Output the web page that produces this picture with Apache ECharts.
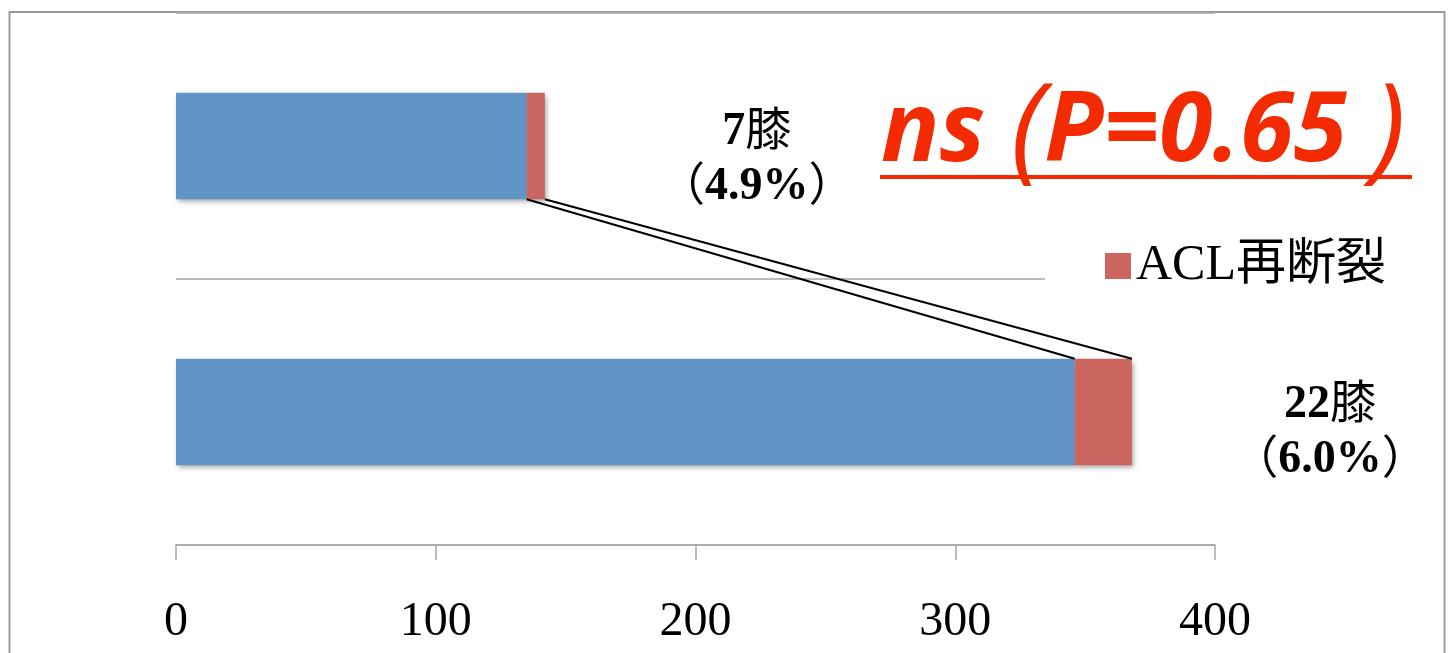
<!DOCTYPE html>
<html>
<head>
<meta charset="utf-8">
<script src="https://cdn.jsdelivr.net/npm/echarts@6/dist/echarts.min.js"></script>
<style>
  html, body { margin: 0; padding: 0; background: #fff; }
  #chart { width: 1453px; height: 653px; }
</style>
</head>
<body>
<div id="chart"></div>
<script>
// Knee counts per group (top bar first)
const groups = ['群A', '群B'];
const intactKnees = [135, 346];
const reruptureKnees = [7, 22];
const xTicks = [0, 100, 200, 300, 400];
const seriesNames = ['再断裂なし', 'ACL再断裂'];
const pValueParts = ['ns ', '(', 'P=0.65 ', ')'];

const SERIF = '"Liberation Serif", "Noto Sans CJK JP", serif';
const BAR_RATIO = 0.4;
const GRID_GRAY = '#a6a6a6';
const BLUE = '#6195c8';
const RED = '#cb6560';
const ALERT_RED = '#f42a00';

// label placement next to the red segment: [distance to the right, vertical shift]
const labelShift = [[212, 14], [198, 21]];

// end points of the connector lines: [x on top bar, top index, x on bottom bar, bottom index]
const connectorData = [
  [intactKnees[0], 0, intactKnees[1], 1],
  [intactKnees[0] + reruptureKnees[0], 0, intactKnees[1] + reruptureKnees[1], 1]
];

const barShadow = {
  shadowColor: 'rgba(0,0,0,0.35)',
  shadowBlur: 5,
  shadowOffsetX: 2,
  shadowOffsetY: 3
};

const labelRich = {
  b: { color: '#000', fontFamily: SERIF, fontWeight: 'bold', fontSize: 46, lineHeight: 55 },
  r: { color: '#000', fontFamily: SERIF, fontWeight: 'normal', fontSize: 46, lineHeight: 55 }
};

const chart = echarts.init(document.getElementById('chart'), null, { renderer: 'canvas' });

chart.setOption({
  animation: false,
  backgroundColor: '#fff',
  grid: { left: 176, right: 238, top: 13, bottom: 108, containLabel: false },
  xAxis: {
    type: 'value',
    min: xTicks[0],
    max: xTicks[xTicks.length - 1],
    interval: xTicks[1] - xTicks[0],
    axisLine: { show: true, lineStyle: { color: GRID_GRAY, width: 1.5 } },
    axisTick: { show: true, inside: false, length: 15, lineStyle: { color: GRID_GRAY, width: 1.5 } },
    splitLine: { show: false },
    axisLabel: { color: '#000', fontFamily: SERIF, fontSize: 48, margin: 53 }
  },
  yAxis: {
    type: 'category',
    data: groups,
    inverse: true,
    axisLine: { show: false },
    axisTick: { show: false },
    axisLabel: { show: false },
    splitLine: { show: true, lineStyle: { color: GRID_GRAY, width: 1.5 } }
  },
  legend: {
    data: [seriesNames[1]],
    left: 1045,
    top: 221,
    padding: [20, 30, 20, 60],
    backgroundColor: '#fff',
    icon: 'rect',
    itemWidth: 26,
    itemHeight: 26,
    selectedMode: false,
    textStyle: { color: '#000', fontFamily: SERIF, fontSize: 50 }
  },
  series: [
    {
      name: seriesNames[0],
      type: 'bar',
      stack: 'knees',
      barWidth: (BAR_RATIO * 100) + '%',
      itemStyle: Object.assign({ color: BLUE }, barShadow),
      data: intactKnees
    },
    {
      name: seriesNames[1],
      type: 'bar',
      stack: 'knees',
      barWidth: (BAR_RATIO * 100) + '%',
      itemStyle: Object.assign({ color: RED }, barShadow),
      data: reruptureKnees.map((v, i) => {
        const pct = (v / (v + intactKnees[i]) * 100).toFixed(1);
        return {
          value: v,
          label: {
            show: true,
            position: 'right',
            distance: labelShift[i][0],
            offset: [0, labelShift[i][1]],
            align: 'center',
            formatter: '{b|' + v + '}{r|膝}\n{r|（}{b|' + pct + '%}{r|）}',
            rich: labelRich
          }
        };
      })
    },
    {
      name: 'connector',
      type: 'custom',
      z: 5,
      silent: true,
      encode: { x: [0, 2], y: [1, 3] },
      data: connectorData,
      renderItem: function (params, api) {
        const pTop = api.coord([api.value(0), api.value(1)]);
        const pBottom = api.coord([api.value(2), api.value(3)]);
        const half = api.size([0, 1])[1] * BAR_RATIO / 2;
        return {
          type: 'line',
          shape: { x1: pTop[0], y1: pTop[1] + half, x2: pBottom[0], y2: pBottom[1] - half },
          style: { stroke: '#000', lineWidth: 2 }
        };
      }
    }
  ],
  graphic: [
    {
      type: 'rect',
      silent: true,
      z: 0,
      shape: { x: 9.5, y: 12, width: 1435, height: 700 },
      style: { fill: 'none', stroke: '#9a9a9a', lineWidth: 2 }
    },
    {
      type: 'text',
      silent: true,
      z: 10,
      style: {
        x: 881,
        y: 133,
        text: '{a|' + pValueParts[0] + '}{p|' + pValueParts[1] + '}{a|' + pValueParts[2] + '}{p|' + pValueParts[3] + '}',
        textVerticalAlign: 'middle',
        rich: {
          a: { fill: ALERT_RED, font: 'italic bold 97px "Open Sans", sans-serif' },
          p: { fill: ALERT_RED, font: 'italic normal 118px "Open Sans", sans-serif' }
        }
      }
    },
    {
      type: 'line',
      silent: true,
      z: 10,
      shape: { x1: 880, y1: 177, x2: 1412, y2: 177 },
      style: { stroke: ALERT_RED, lineWidth: 4 }
    }
  ]
});
</script>
</body>
</html>
